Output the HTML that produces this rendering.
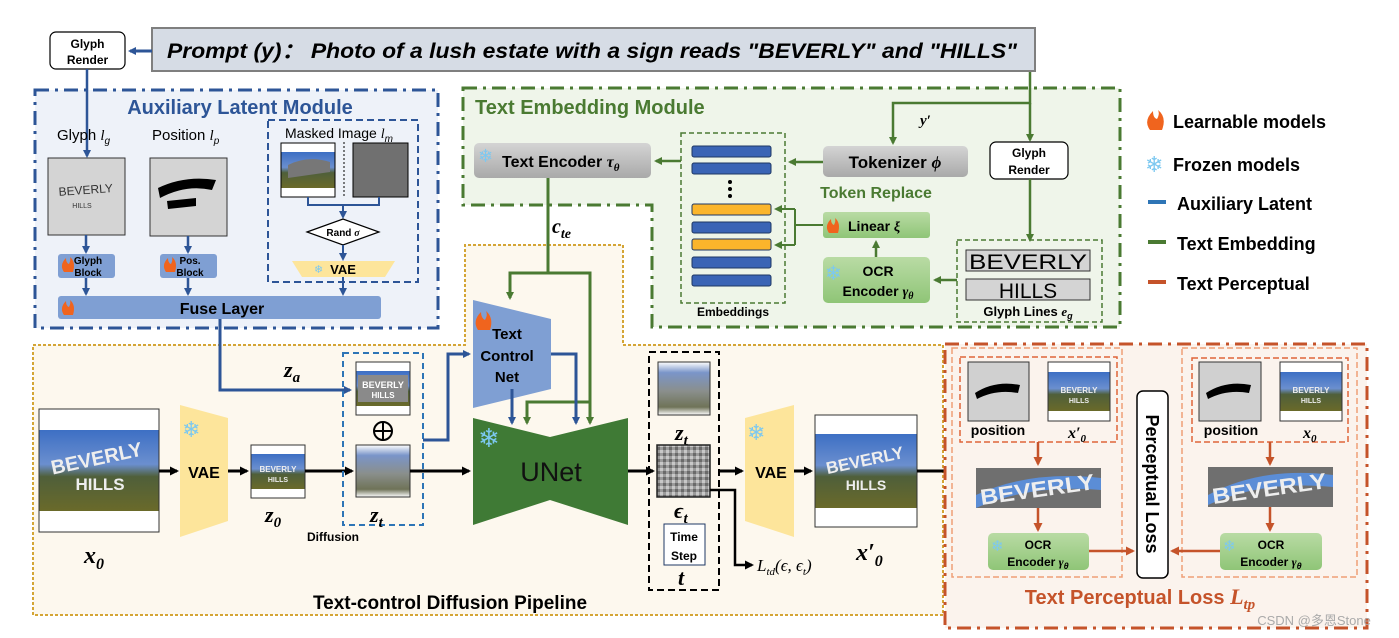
<!DOCTYPE html>
<html><head><meta charset="utf-8"><style>
html,body{margin:0;padding:0;background:#fff;}
svg{display:block;font-family:"Liberation Sans",sans-serif;}
.b{font-weight:bold;}
</style></head><body>
<svg width="1399" height="638" viewBox="0 0 1399 638" xmlns="http://www.w3.org/2000/svg">
<defs>
<marker id="ab" markerWidth="8" markerHeight="8" refX="6" refY="4" orient="auto" markerUnits="userSpaceOnUse"><path d="M0,0 L8,4 L0,8 z" fill="#2d5597"/></marker>
<marker id="ag" markerWidth="8" markerHeight="8" refX="6" refY="4" orient="auto" markerUnits="userSpaceOnUse"><path d="M0,0 L8,4 L0,8 z" fill="#4a7a32"/></marker>
<marker id="ak" markerWidth="9" markerHeight="9" refX="7" refY="4.5" orient="auto" markerUnits="userSpaceOnUse"><path d="M0,0 L9,4.5 L0,9 z" fill="#000"/></marker>
<marker id="ao" markerWidth="9" markerHeight="9" refX="7" refY="4.5" orient="auto" markerUnits="userSpaceOnUse"><path d="M0,0 L9,4.5 L0,9 z" fill="#c5532a"/></marker>
<linearGradient id="photo" x1="0" y1="0" x2="0" y2="1">
<stop offset="0" stop-color="#fff"/><stop offset="0.17" stop-color="#fff"/><stop offset="0.17" stop-color="#3d6fc4"/><stop offset="0.45" stop-color="#6b8fcf"/><stop offset="0.55" stop-color="#4f5f3a"/><stop offset="0.83" stop-color="#6a6a2a"/><stop offset="0.83" stop-color="#fff"/><stop offset="1" stop-color="#fff"/></linearGradient>
<linearGradient id="blur" x1="0" y1="0" x2="0" y2="1"><stop offset="0" stop-color="#fff"/><stop offset="0.2" stop-color="#7a95c9"/><stop offset="0.55" stop-color="#8a8f8c"/><stop offset="0.85" stop-color="#6f7358"/><stop offset="1" stop-color="#fff"/></linearGradient>
<linearGradient id="gray" x1="0" y1="0" x2="0" y2="1"><stop offset="0" stop-color="#d4d4d4"/><stop offset="1" stop-color="#a9a9a9"/></linearGradient>
<linearGradient id="lg" x1="0" y1="0" x2="0" y2="1"><stop offset="0" stop-color="#b9dba4"/><stop offset="1" stop-color="#8fc577"/></linearGradient>
<pattern id="noise" width="6" height="6" patternUnits="userSpaceOnUse"><rect width="6" height="6" fill="#9a9a9a"/><rect x="0" y="0" width="3" height="3" fill="#c8c8c8"/><rect x="3" y="3" width="3" height="3" fill="#6a6a6a"/></pattern>
</defs>

<!-- Top prompt -->
<rect x="50" y="32" width="75" height="37" rx="6" fill="#fff" stroke="#000" stroke-width="1.2"/>
<text x="87.5" y="48" font-size="12" class="b" text-anchor="middle">Glyph</text>
<text x="87.5" y="64" font-size="12" class="b" text-anchor="middle">Render</text>
<rect x="152" y="28" width="883" height="43" fill="#d6dce5" stroke="#7f7f7f" stroke-width="2"/>
<text x="167" y="58" font-size="21" class="b" font-style="italic" textLength="850" lengthAdjust="spacingAndGlyphs">Prompt (y)：  Photo of a lush estate with a sign reads "BEVERLY" and "HILLS"</text>
<line x1="152" y1="51" x2="130" y2="51" stroke="#2d5597" stroke-width="3" marker-end="url(#ab)"/>

<!-- Auxiliary Latent Module -->
<rect x="35" y="90" width="403" height="238" fill="#eef2f9" stroke="#2d5597" stroke-width="3" stroke-dasharray="14,6,3,6"/>
<text x="240" y="114" font-size="20" class="b" fill="#2d5597" text-anchor="middle">Auxiliary Latent Module</text>
<line x1="87" y1="69" x2="87" y2="156" stroke="#2d5597" stroke-width="2.5" marker-end="url(#ab)"/>
<text x="57" y="140" font-size="15">Glyph <tspan font-style="italic" font-family="Liberation Serif">l</tspan><tspan font-size="10" font-style="italic" dy="4">g</tspan></text>
<text x="152" y="140" font-size="15">Position <tspan font-style="italic" font-family="Liberation Serif">l</tspan><tspan font-size="10" font-style="italic" dy="4">p</tspan></text>
<rect x="48" y="158" width="77" height="77" fill="#d4d4d4" stroke="#333"/>
<text x="86" y="194" font-size="12" text-anchor="middle" fill="#333" transform="rotate(-4 86 194)">BEVERLY</text>
<text x="82" y="208" font-size="7" text-anchor="middle" fill="#333">HILLS</text>
<rect x="150" y="158" width="77" height="78" fill="#d4d4d4" stroke="#333"/>
<path d="M158,188 Q185,175 216,180 L212,190 Q186,184 160,198 z" fill="#000"/>
<path d="M167,201 L196,198 L196,206 L168,209 z" fill="#000"/>
<rect x="268" y="120" width="150" height="162" fill="none" stroke="#2d5597" stroke-width="2" stroke-dasharray="7,4"/>
<text x="285" y="138" font-size="14">Masked Image <tspan font-style="italic" font-family="Liberation Serif">l</tspan><tspan font-size="10" font-style="italic" dy="4">m</tspan></text>
<rect x="281" y="143" width="54" height="54" fill="url(#photo)" stroke="#000"/>
<path d="M288,165 Q308,155 330,162 L330,172 L288,178 z" fill="#777"/>
<line x1="344" y1="142" x2="344" y2="198" stroke="#000" stroke-dasharray="2,2"/>
<rect x="353" y="143" width="55" height="54" fill="#707070" stroke="#000"/>
<polyline points="308,197 308,205 379,205 379,197" fill="none" stroke="#2d5597" stroke-width="2"/>
<line x1="343" y1="205" x2="343" y2="217" stroke="#2d5597" stroke-width="2" marker-end="url(#ab)"/>
<polygon points="307,232 343,219 379,232 343,245" fill="#fff" stroke="#000" stroke-width="1.2"/>
<text x="343" y="236" font-size="10" class="b" text-anchor="middle">Rand <tspan font-style="italic" font-family="Liberation Serif">σ</tspan></text>
<line x1="343" y1="245" x2="343" y2="259" stroke="#2d5597" stroke-width="2" marker-end="url(#ab)"/>
<polygon points="292,261 395,261 385,277 302,277" fill="#fde59b"/>
<text x="314" y="273" font-size="11" fill="#7cc8f0">❄</text>
<text x="343" y="274" font-size="13" class="b" text-anchor="middle">VAE</text>
<line x1="343" y1="277" x2="343" y2="294" stroke="#2d5597" stroke-width="2" marker-end="url(#ab)"/>
<line x1="86" y1="235" x2="86" y2="252" stroke="#2d5597" stroke-width="2.5" marker-end="url(#ab)"/>
<line x1="188" y1="236" x2="188" y2="252" stroke="#2d5597" stroke-width="2.5" marker-end="url(#ab)"/>
<rect x="58" y="254" width="57" height="24" rx="3" fill="#7f9fd3"/>
<rect x="160" y="254" width="57" height="24" rx="3" fill="#7f9fd3"/>
<path d="M64,272 q-5,-7 2,-14 q0,5 3,6 q2,-4 1,-7 q6,5 3,15 z" fill="#f0641e"/>
<path d="M166,272 q-5,-7 2,-14 q0,5 3,6 q2,-4 1,-7 q6,5 3,15 z" fill="#f0641e"/>
<text x="88" y="264" font-size="10" class="b" text-anchor="middle">Glyph</text>
<text x="88" y="276" font-size="10" class="b" text-anchor="middle">Block</text>
<text x="190" y="264" font-size="10" class="b" text-anchor="middle">Pos.</text>
<text x="190" y="276" font-size="10" class="b" text-anchor="middle">Block</text>
<line x1="86" y1="278" x2="86" y2="294" stroke="#2d5597" stroke-width="2.5" marker-end="url(#ab)"/>
<line x1="188" y1="278" x2="188" y2="294" stroke="#2d5597" stroke-width="2.5" marker-end="url(#ab)"/>
<rect x="58" y="296" width="323" height="23" rx="3" fill="#7f9fd3"/>
<path d="M64,315 q-5,-7 2,-14 q0,5 3,6 q2,-4 1,-7 q6,5 3,15 z" fill="#f0641e"/>
<text x="222" y="314" font-size="16" class="b" text-anchor="middle">Fuse Layer</text>

<!-- Text Embedding Module -->
<path d="M463,88 L1120,88 L1120,327 L652,327 L652,205 L463,205 z" fill="#eff5ea" stroke="#4a7a32" stroke-width="3" stroke-dasharray="14,6,3,6"/>
<text x="475" y="114" font-size="20" class="b" fill="#4a7a32">Text Embedding Module</text>
<rect x="474" y="143" width="177" height="35" rx="5" fill="url(#gray)"/>
<text x="478" y="162" font-size="18" fill="#7cc8f0">❄</text>
<text x="502" y="167" font-size="16" class="b">Text Encoder <tspan font-style="italic" font-family="Liberation Serif">τ</tspan><tspan font-size="11" font-style="italic" font-family="Liberation Serif" dy="4">θ</tspan></text>
<rect x="681" y="133" width="104" height="170" fill="#eef5e8" stroke="#4a7a32" stroke-width="1.5" stroke-dasharray="5,3"/>
<g stroke="#1f3864" stroke-width="1">
<rect x="692" y="146" width="79" height="11" rx="2" fill="#3a64b5"/>
<rect x="692" y="163" width="79" height="11" rx="2" fill="#3a64b5"/>
<rect x="692" y="204" width="79" height="11" rx="2" fill="#fbb52b"/>
<rect x="692" y="222" width="79" height="11" rx="2" fill="#3a64b5"/>
<rect x="692" y="239" width="79" height="11" rx="2" fill="#fbb52b"/>
<rect x="692" y="257" width="79" height="11" rx="2" fill="#3a64b5"/>
<rect x="692" y="275" width="79" height="11" rx="2" fill="#3a64b5"/>
</g>
<circle cx="730" cy="182" r="2" fill="#000"/><circle cx="730" cy="189" r="2" fill="#000"/><circle cx="730" cy="196" r="2" fill="#000"/>
<text x="733" y="316" font-size="12" class="b" text-anchor="middle">Embeddings</text>
<line x1="681" y1="161" x2="656" y2="161" stroke="#4a7a32" stroke-width="2.5" marker-end="url(#ag)"/>
<rect x="823" y="146" width="145" height="31" rx="5" fill="url(#gray)"/>
<text x="895" y="168" font-size="17" class="b" text-anchor="middle">Tokenizer <tspan font-style="italic" font-family="Liberation Serif">ϕ</tspan></text>
<line x1="823" y1="162" x2="790" y2="162" stroke="#4a7a32" stroke-width="2.5" marker-end="url(#ag)"/>
<text x="876" y="198" font-size="16" class="b" fill="#4a7a32" text-anchor="middle">Token Replace</text>
<rect x="823" y="212" width="107" height="26" rx="3" fill="url(#lg)"/>
<path d="M829,233 q-5,-7 2,-14 q0,5 3,6 q2,-4 1,-7 q6,5 3,15 z" fill="#f0641e"/>
<text x="848" y="231" font-size="14" class="b">Linear <tspan font-style="italic" font-family="Liberation Serif">ξ</tspan></text>
<polyline points="823,225 795,225" fill="none" stroke="#4a7a32" stroke-width="2"/>
<polyline points="795,209 795,245" fill="none" stroke="#4a7a32" stroke-width="2"/>
<line x1="795" y1="209" x2="776" y2="209" stroke="#4a7a32" stroke-width="2" marker-end="url(#ag)"/>
<line x1="795" y1="245" x2="776" y2="245" stroke="#4a7a32" stroke-width="2" marker-end="url(#ag)"/>
<line x1="876" y1="257" x2="876" y2="242" stroke="#4a7a32" stroke-width="2.5" marker-end="url(#ag)"/>
<rect x="823" y="257" width="107" height="46" rx="5" fill="url(#lg)"/>
<text x="825" y="280" font-size="20" fill="#7cc8f0">❄</text>
<text x="878" y="276" font-size="14" class="b" text-anchor="middle">OCR</text>
<text x="878" y="296" font-size="14" class="b" text-anchor="middle">Encoder <tspan font-style="italic" font-family="Liberation Serif">γ</tspan><tspan font-size="10" font-style="italic" font-family="Liberation Serif" dy="3">θ</tspan></text>
<rect x="990" y="142" width="78" height="37" rx="6" fill="#fff" stroke="#000" stroke-width="1.2"/>
<text x="1029" y="157" font-size="12" class="b" text-anchor="middle">Glyph</text>
<text x="1029" y="174" font-size="12" class="b" text-anchor="middle">Render</text>
<polyline points="1030,72 1030,103 893,103 893,143" fill="none" stroke="#4a7a32" stroke-width="2.5" marker-end="url(#ag)"/>
<line x1="1030" y1="103" x2="1030" y2="140" stroke="#4a7a32" stroke-width="2.5" marker-end="url(#ag)"/>
<text x="920" y="125" font-size="15" class="b" font-style="italic" font-family="Liberation Serif">y′</text>
<line x1="1030" y1="179" x2="1030" y2="240" stroke="#4a7a32" stroke-width="2.5" marker-end="url(#ag)"/>
<rect x="957" y="240" width="145" height="82" fill="none" stroke="#4a7a32" stroke-width="1.5" stroke-dasharray="5,3"/>
<rect x="966" y="250" width="124" height="21" fill="#d4d4d4" stroke="#333"/>
<text x="1028" y="269" font-size="21" text-anchor="middle" textLength="118" lengthAdjust="spacingAndGlyphs">BEVERLY</text>
<rect x="966" y="279" width="124" height="21" fill="#d4d4d4" stroke="#333"/>
<text x="1028" y="298" font-size="21" text-anchor="middle">HILLS</text>
<text x="1028" y="316" font-size="13" class="b" text-anchor="middle">Glyph Lines <tspan font-style="italic" font-family="Liberation Serif">e</tspan><tspan font-size="9" font-style="italic" dy="3">g</tspan></text>
<line x1="957" y1="280" x2="935" y2="280" stroke="#4a7a32" stroke-width="2.5" marker-end="url(#ag)"/>

<!-- Legend -->
<path d="M1150,130 q-7,-9 3,-19 q0,7 4,8 q3,-5 1,-9 q9,7 4,20 z" fill="#f0641e"/>
<text x="1173" y="128" font-size="18" class="b">Learnable models</text>
<text x="1145" y="172" font-size="22" fill="#7cc8f0">❄</text>
<text x="1173" y="171" font-size="18" class="b">Frozen models</text>
<line x1="1148" y1="202" x2="1166" y2="202" stroke="#2e75b6" stroke-width="4"/>
<text x="1177" y="210" font-size="18" class="b">Auxiliary Latent</text>
<line x1="1148" y1="242" x2="1166" y2="242" stroke="#4a7a32" stroke-width="4"/>
<text x="1177" y="250" font-size="18" class="b">Text Embedding</text>
<line x1="1148" y1="282" x2="1166" y2="282" stroke="#c5532a" stroke-width="4"/>
<text x="1177" y="290" font-size="18" class="b">Text Perceptual</text>

<!-- Diffusion pipeline -->
<path d="M33,345 L465,345 L465,245 L623,245 L623,345 L943,345 L943,615 L33,615 z" fill="#fdf8ee" stroke="#d4a535" stroke-width="2" stroke-dasharray="3,2"/>
<line x1="548" y1="178" x2="548" y2="273" stroke="#4a7a32" stroke-width="3"/>
<text x="552" y="233" font-size="20" class="b" font-style="italic" font-family="Liberation Serif">c<tspan font-size="14" dy="5">te</tspan></text>
<polyline points="510,298 510,273 590,273 590,423" fill="none" stroke="#4a7a32" stroke-width="3" marker-end="url(#ag)"/>
<line x1="510" y1="285" x2="510" y2="298" stroke="#4a7a32" stroke-width="3" marker-end="url(#ag)"/>
<polyline points="590,402 527,402 527,423" fill="none" stroke="#4a7a32" stroke-width="3" marker-end="url(#ag)"/>
<polygon points="473,300 551,319 551,389 473,408" fill="#7f9fd3"/>
<path d="M478,330 q-6,-9 3,-18 q0,6 4,8 q3,-5 1,-9 q8,7 4,19 z" fill="#f0641e"/>
<text x="507" y="339" font-size="15" class="b" text-anchor="middle">Text</text>
<text x="507" y="361" font-size="15" class="b" text-anchor="middle">Control</text>
<text x="507" y="382" font-size="15" class="b" text-anchor="middle">Net</text>
<line x1="512" y1="389" x2="512" y2="423" stroke="#2d5597" stroke-width="3" marker-end="url(#ab)"/>
<polyline points="551,354 576,354 576,423" fill="none" stroke="#2d5597" stroke-width="3" marker-end="url(#ab)"/>
<polygon points="473,418 550,437 628,418 628,525 550,500 473,525" fill="#3f7a35"/>
<text x="478" y="447" font-size="26" fill="#7cc8f0">❄</text>
<text x="551" y="481" font-size="27" text-anchor="middle" fill="#111">UNet</text>

<polyline points="220,319 220,390 350,390" fill="none" stroke="#2d5597" stroke-width="3" marker-end="url(#ab)"/>
<text x="284" y="377" font-size="22" class="b" font-style="italic" font-family="Liberation Serif">z<tspan font-size="15" dy="5">a</tspan></text>

<rect x="39" y="409" width="120" height="123" fill="url(#photo)" stroke="#333"/>
<text x="98" y="465" font-size="20" class="b" fill="#eee" text-anchor="middle" transform="rotate(-12 98 465)">BEVERLY</text>
<text x="100" y="490" font-size="17" class="b" fill="#eee" text-anchor="middle">HILLS</text>
<text x="84" y="563" font-size="24" class="b" font-style="italic" font-family="Liberation Serif">x<tspan font-size="16" dy="6">0</tspan></text>
<line x1="159" y1="471" x2="177" y2="471" stroke="#000" stroke-width="3" marker-end="url(#ak)"/>
<polygon points="180,405 228,418 228,521 180,537" fill="#fde59b"/>
<text x="182" y="437" font-size="22" fill="#7cc8f0">❄</text>
<text x="204" y="478" font-size="16" class="b" text-anchor="middle">VAE</text>
<line x1="228" y1="471" x2="247" y2="471" stroke="#000" stroke-width="3" marker-end="url(#ak)"/>
<rect x="251" y="445" width="54" height="53" fill="url(#photo)" stroke="#333"/>
<text x="278" y="472" font-size="8" class="b" fill="#eee" text-anchor="middle">BEVERLY</text>
<text x="278" y="482" font-size="7" class="b" fill="#eee" text-anchor="middle">HILLS</text>
<text x="265" y="522" font-size="22" class="b" font-style="italic" font-family="Liberation Serif">z<tspan font-size="15" dy="5">0</tspan></text>
<line x1="305" y1="471" x2="352" y2="471" stroke="#000" stroke-width="3" marker-end="url(#ak)"/>
<rect x="343" y="353" width="80" height="172" fill="none" stroke="#2e75b6" stroke-width="2" stroke-dasharray="6,4"/>
<rect x="356" y="362" width="54" height="53" fill="url(#photo)" stroke="#333"/>
<rect x="358" y="375" width="50" height="27" fill="#8a8a8a"/>
<text x="383" y="388" font-size="9" class="b" fill="#fff" text-anchor="middle">BEVERLY</text>
<text x="383" y="398" font-size="8" class="b" fill="#fff" text-anchor="middle">HILLS</text>
<circle cx="383" cy="431" r="9" fill="none" stroke="#000" stroke-width="2"/>
<line x1="374" y1="431" x2="392" y2="431" stroke="#000" stroke-width="2"/>
<line x1="383" y1="422" x2="383" y2="440" stroke="#000" stroke-width="2"/>
<rect x="356" y="445" width="54" height="52" fill="url(#blur)" stroke="#333"/>
<text x="370" y="522" font-size="22" class="b" font-style="italic" font-family="Liberation Serif">z<tspan font-size="15" dy="5">t</tspan></text>
<text x="333" y="541" font-size="12" class="b" text-anchor="middle">Diffusion</text>
<line x1="410" y1="471" x2="469" y2="471" stroke="#000" stroke-width="3" marker-end="url(#ak)"/>
<polyline points="423,440 448,440 448,354 469,354" fill="none" stroke="#2d5597" stroke-width="3" marker-end="url(#ab)"/>

<line x1="628" y1="471" x2="653" y2="471" stroke="#000" stroke-width="3" marker-end="url(#ak)"/>
<rect x="649" y="352" width="70" height="238" fill="none" stroke="#000" stroke-width="2" stroke-dasharray="7,4"/>
<rect x="658" y="362" width="52" height="53" fill="url(#blur)" stroke="#333"/>
<text x="675" y="440" font-size="22" class="b" font-style="italic" font-family="Liberation Serif">z<tspan font-size="15" dy="5">t</tspan></text>
<rect x="657" y="445" width="53" height="52" fill="url(#noise)" stroke="#222" stroke-width="1.5"/>
<text x="674" y="518" font-size="22" class="b" font-style="italic" font-family="Liberation Serif">ϵ<tspan font-size="15" dy="5">t</tspan></text>
<rect x="664" y="524" width="41" height="41" fill="#fff" stroke="#1f3864"/>
<text x="684" y="541" font-size="12" class="b" text-anchor="middle">Time</text>
<text x="684" y="560" font-size="12" class="b" text-anchor="middle">Step</text>
<text x="678" y="585" font-size="22" class="b" font-style="italic" font-family="Liberation Serif">t</text>
<polyline points="710,490 735,490 735,565 752,565" fill="none" stroke="#000" stroke-width="2.5" marker-end="url(#ak)"/>
<text x="757" y="571" font-size="17" font-style="italic" font-family="Liberation Serif">L<tspan font-size="11" dy="4">td</tspan><tspan dy="-4">(ϵ, ϵ</tspan><tspan font-size="11" dy="4">t</tspan><tspan dy="-4">)</tspan></text>
<line x1="719" y1="471" x2="742" y2="471" stroke="#000" stroke-width="3" marker-end="url(#ak)"/>
<polygon points="745,418 794,405 794,537 745,521" fill="#fde59b"/>
<text x="747" y="440" font-size="22" fill="#7cc8f0">❄</text>
<text x="771" y="478" font-size="16" class="b" text-anchor="middle">VAE</text>
<line x1="794" y1="471" x2="811" y2="471" stroke="#000" stroke-width="3" marker-end="url(#ak)"/>
<rect x="815" y="415" width="102" height="112" fill="url(#photo)" stroke="#333"/>
<text x="866" y="466" font-size="17" class="b" fill="#eee" text-anchor="middle" transform="rotate(-12 866 466)">BEVERLY</text>
<text x="866" y="490" font-size="14" class="b" fill="#eee" text-anchor="middle">HILLS</text>
<text x="856" y="560" font-size="24" class="b" font-style="italic" font-family="Liberation Serif">x′<tspan font-size="16" dy="6">0</tspan></text>
<line x1="917" y1="471" x2="952" y2="471" stroke="#000" stroke-width="3" marker-end="url(#ak)"/>
<text x="450" y="609" font-size="19" class="b" text-anchor="middle">Text-control Diffusion Pipeline</text>

<!-- Text Perceptual Loss -->
<rect x="945" y="344" width="422" height="284" fill="#fbf3ed" stroke="#c5532a" stroke-width="3" stroke-dasharray="14,6,3,6"/>
<rect x="952" y="348" width="170" height="229" fill="none" stroke="#f0a077" stroke-width="1.5" stroke-dasharray="6,3"/>
<rect x="1182" y="348" width="175" height="229" fill="none" stroke="#f0a077" stroke-width="1.5" stroke-dasharray="6,3"/>
<rect x="960" y="357" width="157" height="85" fill="none" stroke="#e0653a" stroke-width="1.5" stroke-dasharray="6,3"/>
<rect x="1192" y="358" width="156" height="84" fill="none" stroke="#e0653a" stroke-width="1.5" stroke-dasharray="6,3"/>
<rect x="968" y="362" width="61" height="59" fill="#d0d0d0" stroke="#333"/>
<path d="M975,393 Q995,380 1020,385 L1018,393 Q996,389 977,399 z" fill="#000"/>
<rect x="1048" y="362" width="62" height="59" fill="url(#photo)" stroke="#333"/>
<text x="1079" y="393" font-size="8" class="b" fill="#eee" text-anchor="middle">BEVERLY</text>
<text x="1079" y="403" font-size="7" class="b" fill="#eee" text-anchor="middle">HILLS</text>
<text x="998" y="435" font-size="14" class="b" text-anchor="middle">position</text>
<text x="1068" y="438" font-size="16" class="b" font-style="italic" font-family="Liberation Serif">x′<tspan font-size="11" dy="4">0</tspan></text>
<rect x="1199" y="362" width="62" height="59" fill="#d0d0d0" stroke="#333"/>
<path d="M1206,393 Q1226,380 1251,385 L1249,393 Q1227,389 1208,399 z" fill="#000"/>
<rect x="1280" y="362" width="62" height="59" fill="url(#photo)" stroke="#333"/>
<text x="1311" y="393" font-size="8" class="b" fill="#eee" text-anchor="middle">BEVERLY</text>
<text x="1311" y="403" font-size="7" class="b" fill="#eee" text-anchor="middle">HILLS</text>
<text x="1231" y="435" font-size="14" class="b" text-anchor="middle">position</text>
<text x="1303" y="438" font-size="16" class="b" font-style="italic" font-family="Liberation Serif">x<tspan font-size="11" dy="4">0</tspan></text>
<line x1="1038" y1="442" x2="1038" y2="464" stroke="#c5532a" stroke-width="2.5" marker-end="url(#ao)"/>
<line x1="1270" y1="442" x2="1270" y2="464" stroke="#c5532a" stroke-width="2.5" marker-end="url(#ao)"/>
<rect x="976" y="468" width="125" height="40" fill="#6f6f6f"/>
<path d="M976,495 Q1030,470 1101,478 L1101,490 Q1030,484 976,508 z" fill="#5b8dd6"/>
<text x="1038" y="497" font-size="22" class="b" fill="#eee" text-anchor="middle" transform="rotate(-8 1038 495)" textLength="115" lengthAdjust="spacingAndGlyphs">BEVERLY</text>
<rect x="1208" y="467" width="125" height="40" fill="#6f6f6f"/>
<path d="M1208,495 Q1262,466 1333,475 L1333,487 Q1262,480 1208,505 z" fill="#5b8dd6"/>
<text x="1270" y="496" font-size="22" class="b" fill="#eee" text-anchor="middle" transform="rotate(-8 1270 494)" textLength="115" lengthAdjust="spacingAndGlyphs">BEVERLY</text>
<line x1="1038" y1="508" x2="1038" y2="530" stroke="#c5532a" stroke-width="2.5" marker-end="url(#ao)"/>
<line x1="1270" y1="507" x2="1270" y2="530" stroke="#c5532a" stroke-width="2.5" marker-end="url(#ao)"/>
<rect x="988" y="533" width="101" height="37" rx="5" fill="url(#lg)"/>
<text x="991" y="551" font-size="15" fill="#7cc8f0">❄</text>
<text x="1038" y="549" font-size="12" class="b" text-anchor="middle">OCR</text>
<text x="1038" y="566" font-size="12" class="b" text-anchor="middle">Encoder <tspan font-style="italic" font-family="Liberation Serif">γ</tspan><tspan font-size="9" font-style="italic" dy="3">θ</tspan></text>
<rect x="1220" y="533" width="102" height="37" rx="5" fill="url(#lg)"/>
<text x="1223" y="551" font-size="15" fill="#7cc8f0">❄</text>
<text x="1271" y="549" font-size="12" class="b" text-anchor="middle">OCR</text>
<text x="1271" y="566" font-size="12" class="b" text-anchor="middle">Encoder <tspan font-style="italic" font-family="Liberation Serif">γ</tspan><tspan font-size="9" font-style="italic" dy="3">θ</tspan></text>
<line x1="1089" y1="551" x2="1133" y2="551" stroke="#c5532a" stroke-width="2.5" marker-end="url(#ao)"/>
<line x1="1220" y1="551" x2="1172" y2="551" stroke="#c5532a" stroke-width="2.5" marker-end="url(#ao)"/>
<rect x="1137" y="391" width="31" height="187" rx="6" fill="#fff" stroke="#000" stroke-width="1.5"/>
<text x="0" y="0" font-size="18" class="b" text-anchor="middle" transform="translate(1146 484) rotate(90)">Perceptual  Loss</text>
<text x="1140" y="604" font-size="20" class="b" fill="#c5532a" text-anchor="middle">Text Perceptual Loss <tspan font-style="italic" font-family="Liberation Serif" font-size="22">L</tspan><tspan font-style="italic" font-family="Liberation Serif" font-size="15" dy="5">tp</tspan></text>
<text x="1314" y="625" font-size="13" fill="#aaa" text-anchor="middle" font-family="Liberation Sans, 'Noto Sans CJK SC', sans-serif">CSDN @多恩Stone</text>
</svg>
</body></html>
